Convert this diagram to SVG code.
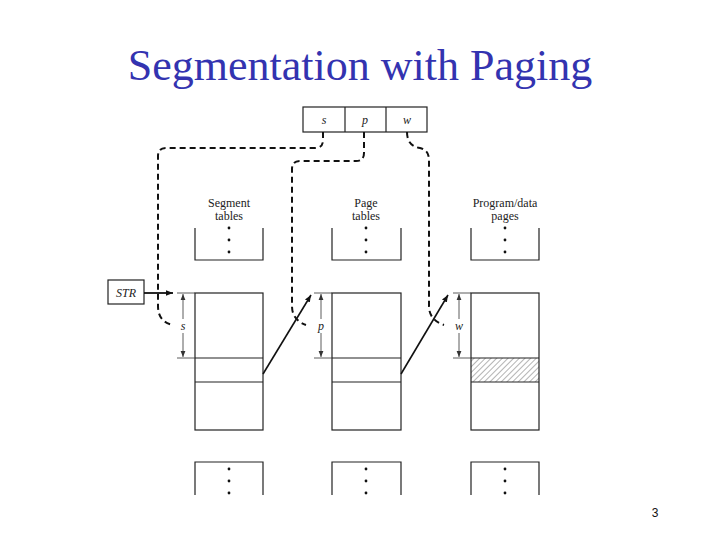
<svg xmlns="http://www.w3.org/2000/svg" width="720" height="540" viewBox="0 0 720 540">
<style>
.ln{fill:none;stroke:#222;stroke-width:1.2}
.dash{fill:none;stroke:#111;stroke-width:2;stroke-dasharray:6,4}
.dim{fill:none;stroke:#333;stroke-width:0.8}
.lbl{font-family:"Liberation Serif",serif;font-size:12px;fill:#222;text-anchor:middle}
.it{font-family:"Liberation Serif",serif;font-style:italic;font-size:12px;fill:#222;text-anchor:middle}
.dot{fill:#111}
</style>
<defs>
<marker id="ah" viewBox="0 0 10 10" refX="10" refY="5" markerWidth="7" markerHeight="7" orient="auto-start-reverse" markerUnits="userSpaceOnUse">
<path d="M0,1 L10,5 L0,9 z" fill="#111"/>
</marker>
<marker id="sa" viewBox="0 0 10 10" refX="10" refY="5" markerWidth="6" markerHeight="6" orient="auto-start-reverse" markerUnits="userSpaceOnUse">
<path d="M0,1 L10,5 L0,9 z" fill="#333"/>
</marker>
<pattern id="hatch" patternUnits="userSpaceOnUse" width="4" height="4" patternTransform="rotate(45)">
<line x1="0" y1="0" x2="0" y2="4" stroke="#444" stroke-width="0.8"/>
</pattern>
</defs>
<rect width="720" height="540" fill="#fff"/>
<text x="360" y="80" font-family="Liberation Serif,serif" font-size="44" fill="#3333B0" text-anchor="middle">Segmentation with Paging</text>
<text x="655" y="517" font-family="Liberation Sans,sans-serif" font-size="12" fill="#111" text-anchor="middle">3</text>

<g id="address">
<rect x="303" y="107" width="124" height="25" class="ln"/>
<line x1="345" y1="107" x2="345" y2="132" class="ln"/>
<line x1="386" y1="107" x2="386" y2="132" class="ln"/>
<text x="324" y="124" class="it">s</text>
<text x="365" y="124" class="it">p</text>
<text x="407" y="124" class="it">w</text>
</g>

<g id="str">
<rect x="108" y="280" width="36" height="24" class="ln"/>
<text x="126" y="297" class="it" font-size="13">STR</text>
</g>

<g id="segment-tables">
<text x="229" y="207" class="lbl">Segment</text>
<text x="229" y="220" class="lbl">tables</text>
<path d="M195,228 V260 H263 V228" class="ln"/>
<circle cx="229" cy="228" r="1.4" class="dot"/><circle cx="229" cy="240" r="1.4" class="dot"/><circle cx="229" cy="252" r="1.4" class="dot"/>
<rect x="195" y="293" width="68" height="137" class="ln"/>
<line x1="195" y1="358" x2="263" y2="358" class="ln"/>
<line x1="195" y1="382" x2="263" y2="382" class="ln"/>
<path d="M195,495 V462 H263 V495" class="ln"/>
<circle cx="229" cy="469" r="1.4" class="dot"/><circle cx="229" cy="481" r="1.4" class="dot"/><circle cx="229" cy="493" r="1.4" class="dot"/>
</g>

<g id="page-tables">
<text x="366" y="207" class="lbl">Page</text>
<text x="366" y="220" class="lbl">tables</text>
<path d="M332,228 V260 H401 V228" class="ln"/>
<circle cx="366" cy="228" r="1.4" class="dot"/><circle cx="366" cy="240" r="1.4" class="dot"/><circle cx="366" cy="252" r="1.4" class="dot"/>
<rect x="332" y="293" width="69" height="137" class="ln"/>
<line x1="332" y1="358" x2="401" y2="358" class="ln"/>
<line x1="332" y1="382" x2="401" y2="382" class="ln"/>
<path d="M332,495 V462 H401 V495" class="ln"/>
<circle cx="366" cy="469" r="1.4" class="dot"/><circle cx="366" cy="481" r="1.4" class="dot"/><circle cx="366" cy="493" r="1.4" class="dot"/>
</g>

<g id="data-pages">
<text x="505" y="207" class="lbl">Program/data</text>
<text x="505" y="220" class="lbl">pages</text>
<path d="M471,228 V260 H539 V228" class="ln"/>
<circle cx="505" cy="228" r="1.4" class="dot"/><circle cx="505" cy="240" r="1.4" class="dot"/><circle cx="505" cy="252" r="1.4" class="dot"/>
<rect x="471" y="358" width="68" height="24" fill="url(#hatch)"/>
<rect x="471" y="293" width="68" height="137" class="ln"/>
<line x1="471" y1="358" x2="539" y2="358" class="ln"/>
<line x1="471" y1="382" x2="539" y2="382" class="ln"/>
<path d="M471,495 V462 H539 V495" class="ln"/>
<circle cx="505" cy="469" r="1.4" class="dot"/><circle cx="505" cy="481" r="1.4" class="dot"/><circle cx="505" cy="493" r="1.4" class="dot"/>
</g>

<g id="dimensions">
<line x1="177" y1="293" x2="195" y2="293" class="dim"/>
<line x1="177" y1="358" x2="195" y2="358" class="dim"/>
<line x1="183" y1="319" x2="183" y2="294" class="dim" marker-end="url(#sa)"/>
<line x1="183" y1="333" x2="183" y2="357" class="dim" marker-end="url(#sa)"/>
<text x="183" y="330" class="it">s</text>
<line x1="314" y1="293" x2="332" y2="293" class="dim"/>
<line x1="314" y1="358" x2="332" y2="358" class="dim"/>
<line x1="321" y1="319" x2="321" y2="294" class="dim" marker-end="url(#sa)"/>
<line x1="321" y1="333" x2="321" y2="357" class="dim" marker-end="url(#sa)"/>
<text x="321" y="330" class="it" font-size="13">p</text>
<line x1="453" y1="293" x2="471" y2="293" class="dim"/>
<line x1="453" y1="358" x2="471" y2="358" class="dim"/>
<line x1="459" y1="319" x2="459" y2="294" class="dim" marker-end="url(#sa)"/>
<line x1="459" y1="333" x2="459" y2="357" class="dim" marker-end="url(#sa)"/>
<text x="459" y="330" class="it" font-size="13">w</text>
</g>

<g id="connectors">
<path d="M323,132 V140 Q323,148 315,148 H166 Q158,148 158,156 V306 Q158,322 173,325" class="dash"/>
<path d="M364,132 V153 Q364,161 356,161 H300 Q292,161 292,169 V306 Q292,320 306,325" class="dash"/>
<path d="M407,132 Q407,146 420,148 Q429,150 429,160 V306 Q429,320 444,325" class="dash"/>
<line x1="144" y1="293" x2="173" y2="293" stroke="#111" stroke-width="1.8" marker-end="url(#ah)"/>
<line x1="263" y1="374" x2="311" y2="295" stroke="#111" stroke-width="1.6" marker-end="url(#ah)"/>
<line x1="401" y1="374" x2="448" y2="295" stroke="#111" stroke-width="1.6" marker-end="url(#ah)"/>
</g>
</svg>
